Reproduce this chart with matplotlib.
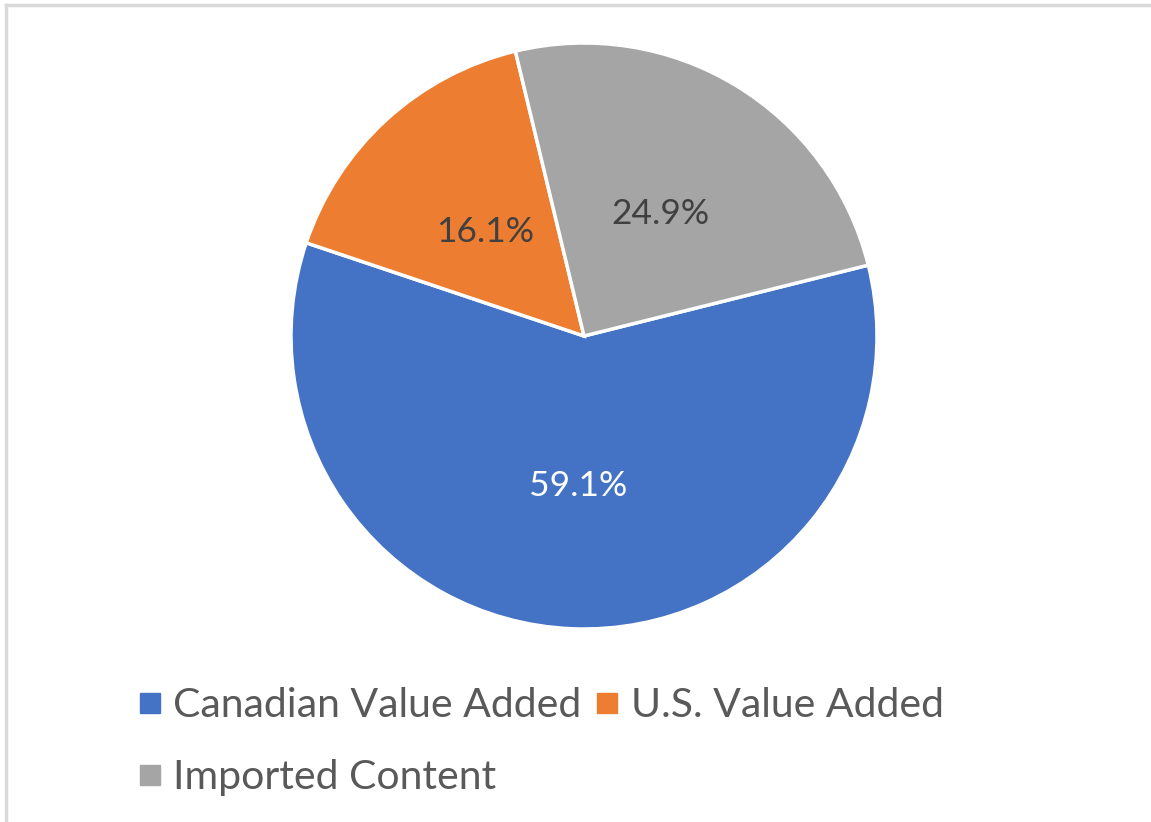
import matplotlib
matplotlib.use("Agg")
import matplotlib.pyplot as plt
from matplotlib.lines import Line2D
import numpy as np

labels = ['Canadian Value Added', 'U.S. Value Added', 'Imported Content']
shares = [59.1, 16.1, 24.9]
colors = ['#4472C4', '#ED7D31', '#A5A5A5']
pct_colors = ['white', '#404040', '#404040']

plt.rcParams['font.family'] = ['Lato', 'DejaVu Sans']

W, H = 1151, 822
fig = plt.figure(figsize=(W / 100, H / 100), dpi=100)

# pie centre and radius in pixels
cx, cy, r = 584, 336, 293
ax = fig.add_axes([(cx - r) / W, (H - cy - r) / H, 2 * r / W, 2 * r / H])
wedges, _ = ax.pie(
    shares, colors=colors, startangle=14, counterclock=False, radius=1,
    wedgeprops=dict(edgecolor='white', linewidth=2.5))

# percentage labels, written from the data (sum is 100.1, so no autopct)
for w, v, c in zip(wedges, shares, pct_colors):
    mid = np.deg2rad((w.theta1 + w.theta2) / 2)
    ax.text(0.5 * np.cos(mid), 0.5 * np.sin(mid) - 0.012, f'{v:.1f}%',
            ha='center', va='center', fontsize=25.5, color=c)

ax.set_xlim(-1, 1)
ax.set_ylim(-1, 1)
ax.set_aspect('equal')

# legend, row-major order: Canadian, U.S. on row 1, Imported on row 2
handles = [Line2D([], [], marker='s', linestyle='none', markersize=14,
                  markerfacecolor=c, markeredgecolor=c) for c in colors]
order = [0, 2, 1]
fig.legend([handles[i] for i in order], [labels[i] for i in order],
           ncol=2, frameon=False, loc='upper left',
           bbox_to_anchor=(118 / W, 1 - 667 / H),
           fontsize=29.5, labelcolor='#595959',
           handlelength=0.55, handletextpad=0.3, columnspacing=0.35,
           labelspacing=0.85, borderpad=0)

# light border on top and left like the original screenshot
fig.add_artist(Line2D([6 / W, 1], [1 - 5 / H, 1 - 5 / H], color='#D9D9D9', lw=2.5))
fig.add_artist(Line2D([6 / W, 6 / W], [0, 1 - 5 / H], color='#D9D9D9', lw=2.5))

fig.savefig('out.png', dpi=100, facecolor='white')
